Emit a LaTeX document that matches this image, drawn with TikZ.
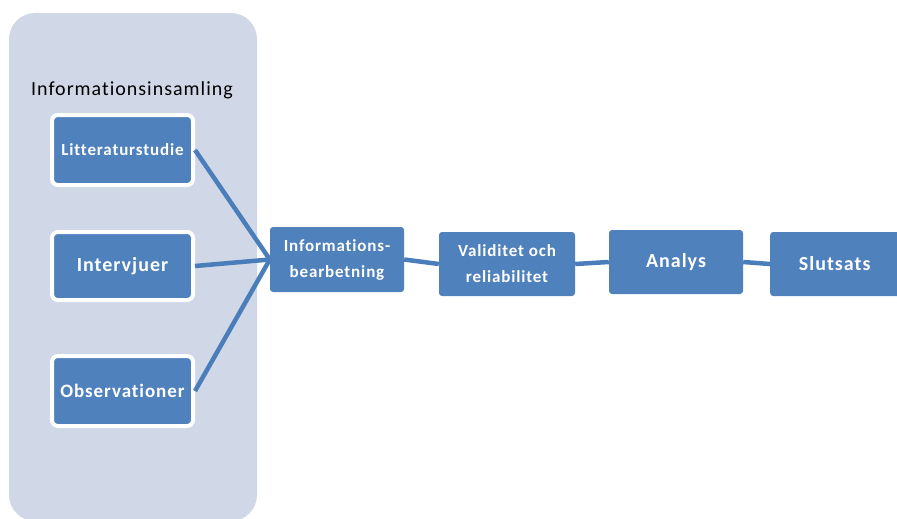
\documentclass[tikz,border=0pt]{standalone}
\usepackage{fontspec}
\setmainfont{Carlito}[Ligatures=NoCommon, LetterSpace=5]
\begin{document}
\definecolor{panel}{HTML}{D0D8E7}
\definecolor{boxblue}{HTML}{4F81BD}
\definecolor{linkblue}{HTML}{4A7EBB}
\begin{tikzpicture}[x=1pt,y=-1pt,
  stepbox/.style={fill=boxblue, rounded corners=3pt, text=white, font=\bfseries, align=center, inner sep=0pt},
  inbox/.style={stepbox, draw=white, line width=4pt, rounded corners=6pt},
  link/.style={draw=linkblue, line width=4.5pt}]
\useasboundingbox (0,0) rectangle (897,519);
% collection panel
\fill[panel, rounded corners=26pt] (9,13) rectangle (257,521);
\node[font=\fontsize{20}{22}\selectfont] (title) at (132,90) {Informationsinsamling};
% source boxes
\node[inbox, minimum width=141pt, minimum height=70pt, font=\bfseries\fontsize{17}{19}\selectfont] (lit) at (122.5,150) {Litteraturstudie};
\node[inbox, minimum width=141pt, minimum height=68pt, font=\bfseries\fontsize{20}{22}\selectfont] (int) at (122.5,266) {Intervjuer};
\node[inbox, minimum width=141pt, minimum height=70pt, font=\bfseries\fontsize{19}{21}\selectfont] (obs) at (122.5,391) {Observationer};
% process chain
\node[stepbox, minimum width=134pt, minimum height=65pt, font=\bfseries\fontsize{17}{26}\selectfont] (bear) at (337,259.5) {Informations-\\bearbetning};
\node[stepbox, minimum width=136pt, minimum height=64pt, font=\bfseries\fontsize{17}{26}\selectfont] (val) at (507,264) {Validitet och\\reliabilitet};
\node[stepbox, minimum width=134pt, minimum height=64pt, font=\bfseries\fontsize{20}{22}\selectfont] (ana) at (676,262) {Analys};
\node[stepbox, minimum width=134pt, minimum height=64pt, font=\bfseries\fontsize{20}{22}\selectfont, anchor=west] (slut) at (770,264) {\hspace*{-5pt}Slutsats};
% connectors
\coordinate (join) at (bear.west);
\draw[link] (lit.east) -- (join);
\draw[link] (int.east) -- (join);
\draw[link] (obs.east) -- (join);
\draw[link] (bear.east) -- (val.west);
\draw[link] (val.east) -- (ana.west);
\draw[link] (ana.east) -- (slut.west);
\end{tikzpicture}
\end{document}
